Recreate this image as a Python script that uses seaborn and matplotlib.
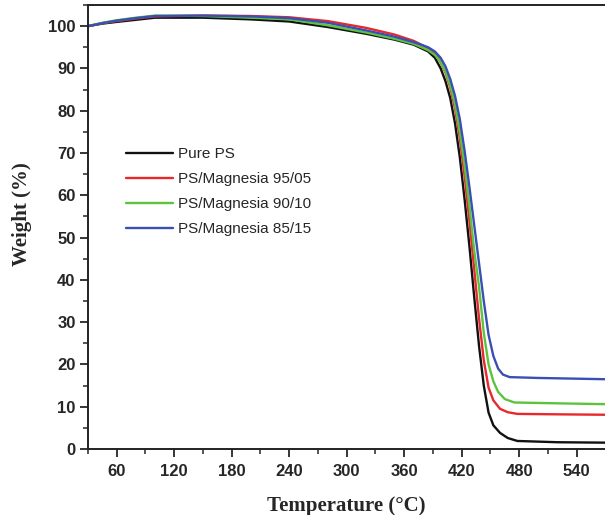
import numpy as np
import pandas as pd
import matplotlib
matplotlib.use("Agg")
import matplotlib.pyplot as plt
import seaborn as sns
from matplotlib.ticker import MultipleLocator

# ---- data ----
temps = [30, 45, 60, 80, 100, 150, 200, 240, 280, 320, 350, 370, 385, 392, 398, 403,
         408, 413, 418, 423, 428, 433, 438, 443, 448, 453, 460, 468, 478, 520, 570]
temps_blue = [30, 45, 60, 80, 100, 150, 200, 240, 280, 320, 350, 370, 385, 392, 398, 403,
              408, 413, 418, 423, 428, 433, 438, 443, 448, 453, 458, 463, 470, 500, 570]
temps_green = [30, 45, 60, 80, 100, 150, 200, 240, 280, 320, 350, 370, 385, 392, 398, 403,
               408, 413, 418, 423, 428, 433, 438, 443, 448, 453, 458, 465, 475, 520, 570]

pure_ps = [100, 100.6, 101.0, 101.5, 102.0, 102.0, 101.6, 101.1, 99.8, 98.2, 96.8, 95.6,
           94.0, 92.5, 90.0, 87.0, 83.0, 77.0, 69.0, 59.0, 48.0, 36.0, 24.5, 15.0, 8.6,
           5.6, 3.8, 2.6, 1.9, 1.6, 1.5]
mg_95_05 = [100, 100.7, 101.2, 101.8, 102.3, 102.5, 102.4, 102.1, 101.2, 99.6, 98.0, 96.5,
            94.8, 93.5, 91.5, 89.0, 85.5, 80.5, 73.5, 64.5, 54.0, 42.5, 31.0, 21.0, 14.5,
            11.5, 9.5, 8.7, 8.3, 8.2, 8.1]
mg_90_10 = [100, 100.8, 101.4, 102.0, 102.5, 102.4, 102.0, 101.6, 100.2, 98.5, 97.0, 95.8,
            94.3, 93.2, 91.5, 89.2, 86.0, 81.5, 75.0, 67.0, 57.5, 47.0, 38.5, 27.5, 20.0,
            16.0, 13.5, 11.8, 11.0, 10.8, 10.6]
mg_85_15 = [100, 100.7, 101.3, 101.9, 102.4, 102.5, 102.3, 101.9, 100.8, 99.0, 97.5, 96.2,
            95.0, 94.0, 92.5, 90.5, 87.5, 83.5, 78.0, 70.5, 62.0, 53.0, 44.0, 35.0, 27.0,
            22.0, 19.0, 17.6, 17.0, 16.8, 16.5]

labels = ["Pure PS", "PS/Magnesia 95/05", "PS/Magnesia 90/10", "PS/Magnesia 85/15"]
colors = ["#111111", "#e8282c", "#5cc43c", "#3a4fb4"]

x_ticks = [60, 120, 180, 240, 300, 360, 420, 480, 540]
y_ticks = [0, 10, 20, 30, 40, 50, 60, 70, 80, 90, 100]

frames = []
for t, w, lab in [(temps, pure_ps, labels[0]), (temps, mg_95_05, labels[1]),
                  (temps_green, mg_90_10, labels[2]), (temps_blue, mg_85_15, labels[3])]:
    frames.append(pd.DataFrame({"Temperature": t, "Weight": w, "Sample": lab}))
df = pd.concat(frames, ignore_index=True)

# ---- plot ----
sns.set_style("ticks")
plt.rcParams["font.family"] = ["Liberation Sans", "DejaVu Sans"]

fig = plt.figure(figsize=(6.05, 5.15), dpi=100)
ax = fig.add_axes([88 / 605, 66 / 515, 1 - 88 / 605, 444 / 515])

sns.lineplot(data=df, x="Temperature", y="Weight", hue="Sample", hue_order=labels,
             palette=colors, estimator=None, sort=False, linewidth=1.7, ax=ax)

ax.set_xlim(30, 569.5)
ax.set_ylim(0, 105)
ax.set_xticks(x_ticks)
ax.set_yticks(y_ticks)
ax.xaxis.set_minor_locator(MultipleLocator(30))
ax.yaxis.set_minor_locator(MultipleLocator(5))
ax.tick_params(which="major", direction="out", length=6, width=1.3, labelsize=12)
ax.tick_params(axis="x", which="major", pad=5)
ax.tick_params(axis="y", which="major", pad=3)
ax.tick_params(which="minor", direction="out", length=3.5, width=1.1)
for lab in ax.get_xticklabels() + ax.get_yticklabels():
    lab.set_fontweight("bold")

for s in ["left", "bottom", "top"]:
    ax.spines[s].set_linewidth(1.4)
    ax.spines[s].set_color("#222222")
ax.spines["right"].set_visible(False)

ax.set_xlabel("Temperature (\u00b0C)", fontsize=15, fontweight="bold",
              family=["Liberation Serif", "DejaVu Serif"], labelpad=12)
ax.set_ylabel("Weight (%)", fontsize=15, fontweight="bold",
              family=["Liberation Serif", "DejaVu Serif"])
ax.yaxis.set_label_coords(-0.108, 0.53)

leg = ax.legend(loc="upper left", bbox_to_anchor=(126 / 605, 1 - 147 / 515),
                bbox_transform=fig.transFigure, frameon=False, fontsize=11,
                handlelength=3.05, handletextpad=0.35, labelspacing=0.72,
                borderpad=0, borderaxespad=0, title=None)
for line in leg.get_lines():
    line.set_linewidth(1.7)

fig.savefig("out.png", dpi=100)
